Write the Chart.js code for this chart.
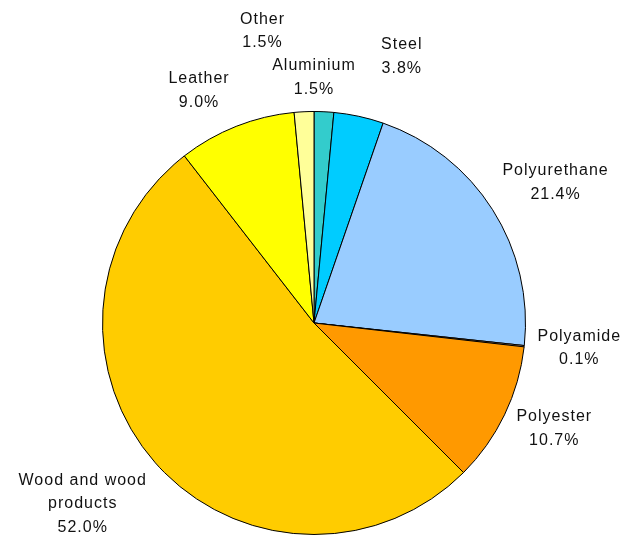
<!DOCTYPE html>
<html>
<head>
<meta charset="utf-8">
<script src="https://cdn.jsdelivr.net/npm/chart.js@4/dist/chart.umd.min.js"></script>
<style>
    html, body { margin: 0; padding: 0; background: #fff; }
    #wrap { width: 635px; height: 535px; }
</style>
</head>
<body>
<div id="wrap"><canvas id="myChart" width="635" height="535"></canvas></div>
<script>
// datos del grafico, en el orden de las agujas del reloj desde arriba
const categorias = ['Aluminium', 'Steel', 'Polyurethane', 'Polyamide', 'Polyester', ['Wood and wood', 'products'], 'Leather', 'Other'];
const porcentajes = [1.5, 3.8, 21.4, 0.1, 10.7, 52.0, 9.0, 1.5];
const colores = ['#33CCCC', '#00CCFF', '#99CCFF', '#FFCC99', '#FF9900', '#FFCC00', '#FFFF00', '#FFFF99'];

// ajuste de cada etiqueta: giro en grados y distancia fuera del borde
const giroEtiqueta = [-2.7, 6, 2.2, -0.9, -2, 3.4, -4.7, -7.3];
const distEtiqueta = [34, 69, 68, 55, 51, 82, 48, 85];

const etiquetasPlugin = {
    id: 'etiquetas',
    afterDatasetsDraw(chart) {
        const ctx = chart.ctx;
        const meta = chart.getDatasetMeta(0);
        ctx.save();
        ctx.font = '16px "Liberation Sans", Arial, sans-serif';
        ctx.letterSpacing = '1px';
        ctx.fillStyle = '#111';
        ctx.textAlign = 'center';
        ctx.textBaseline = 'middle';
        meta.data.forEach(function (arc, i) {
            const p = arc.getProps(['x', 'y', 'startAngle', 'endAngle', 'outerRadius'], true);
            const ang = (p.startAngle + p.endAngle) / 2 + giroEtiqueta[i] * Math.PI / 180;
            const r = p.outerRadius + distEtiqueta[i];
            const cx = p.x + Math.cos(ang) * r;
            const cy = p.y + Math.sin(ang) * r;
            let lineas = [].concat(categorias[i]);
            lineas.push(porcentajes[i].toFixed(1) + '%');
            const alto = 23.5;
            const y0 = cy - (lineas.length - 1) * alto / 2;
            lineas.forEach(function (t, k) {
                ctx.fillText(t, cx, y0 + k * alto);
            });
        });
        ctx.restore();
    }
};

new Chart(document.getElementById('myChart'), {
    type: 'pie',
    data: {
        labels: categorias,
        datasets: [{
            data: porcentajes,
            backgroundColor: colores,
            borderColor: '#000',
            borderWidth: 1
        }]
    },
    options: {
        responsive: false,
        animation: false,
        layout: {
            padding: { top: 111, bottom: 0, left: 102, right: 109 }
        },
        plugins: {
            legend: { display: false },
            tooltip: { enabled: false }
        }
    },
    plugins: [etiquetasPlugin]
});
</script>
</body>
</html>
